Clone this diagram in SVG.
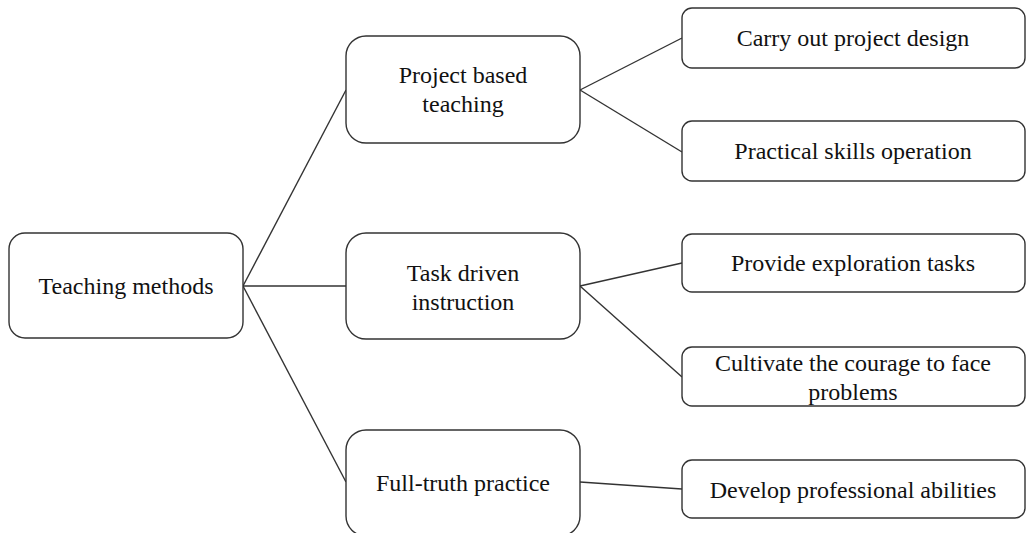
<svg xmlns="http://www.w3.org/2000/svg" width="1027" height="533" viewBox="0 0 1027 533">
<style>
.box{fill:#fff;stroke:#333;stroke-width:1.4}
.t{font-family:"Liberation Serif","Times New Roman",serif;font-size:24px;fill:#111;text-anchor:middle}
.c{stroke:#333;stroke-width:1.4;fill:none}
</style>
<rect width="1027" height="533" fill="#fff"/>
<g id="connectors">
<line class="c" x1="243" y1="286" x2="346" y2="90"/>
<line class="c" x1="243" y1="286" x2="346" y2="286"/>
<line class="c" x1="243" y1="286" x2="346" y2="482"/>
<line class="c" x1="580" y1="90" x2="682" y2="38"/>
<line class="c" x1="580" y1="90" x2="682" y2="152"/>
<line class="c" x1="580" y1="286" x2="682" y2="263"/>
<line class="c" x1="580" y1="286" x2="682" y2="377"/>
<line class="c" x1="580" y1="482" x2="682" y2="489"/>
</g>
<g id="teaching-methods">
<rect class="box" x="9" y="233" width="234" height="105" rx="16"/>
<text class="t" x="126" y="294">Teaching methods</text>
</g>
<g id="project-based">
<rect class="box" x="346" y="36" width="234" height="107" rx="20"/>
<text class="t" x="463" y="83">Project based</text>
<text class="t" x="463" y="112">teaching</text>
</g>
<g id="task-driven">
<rect class="box" x="346" y="233" width="234" height="106" rx="20"/>
<text class="t" x="463" y="281">Task driven</text>
<text class="t" x="463" y="310">instruction</text>
</g>
<g id="full-truth">
<rect class="box" x="346" y="430" width="234" height="106" rx="20"/>
<text class="t" x="463" y="491">Full-truth practice</text>
</g>
<g id="carry-out">
<rect class="box" x="682" y="8" width="343" height="60" rx="10"/>
<text class="t" x="853" y="46">Carry out project design</text>
</g>
<g id="practical-skills">
<rect class="box" x="682" y="121" width="343" height="60" rx="10"/>
<text class="t" x="853" y="159">Practical skills operation</text>
</g>
<g id="provide-exploration">
<rect class="box" x="682" y="234" width="343" height="58" rx="10"/>
<text class="t" x="853" y="271">Provide exploration tasks</text>
</g>
<g id="cultivate-courage">
<rect class="box" x="682" y="347" width="343" height="59" rx="10"/>
<text class="t" x="853" y="371">Cultivate the courage to face</text>
<text class="t" x="853" y="400">problems</text>
</g>
<g id="develop-professional">
<rect class="box" x="682" y="460" width="343" height="58" rx="10"/>
<text class="t" x="853" y="498">Develop professional abilities</text>
</g>
</svg>
